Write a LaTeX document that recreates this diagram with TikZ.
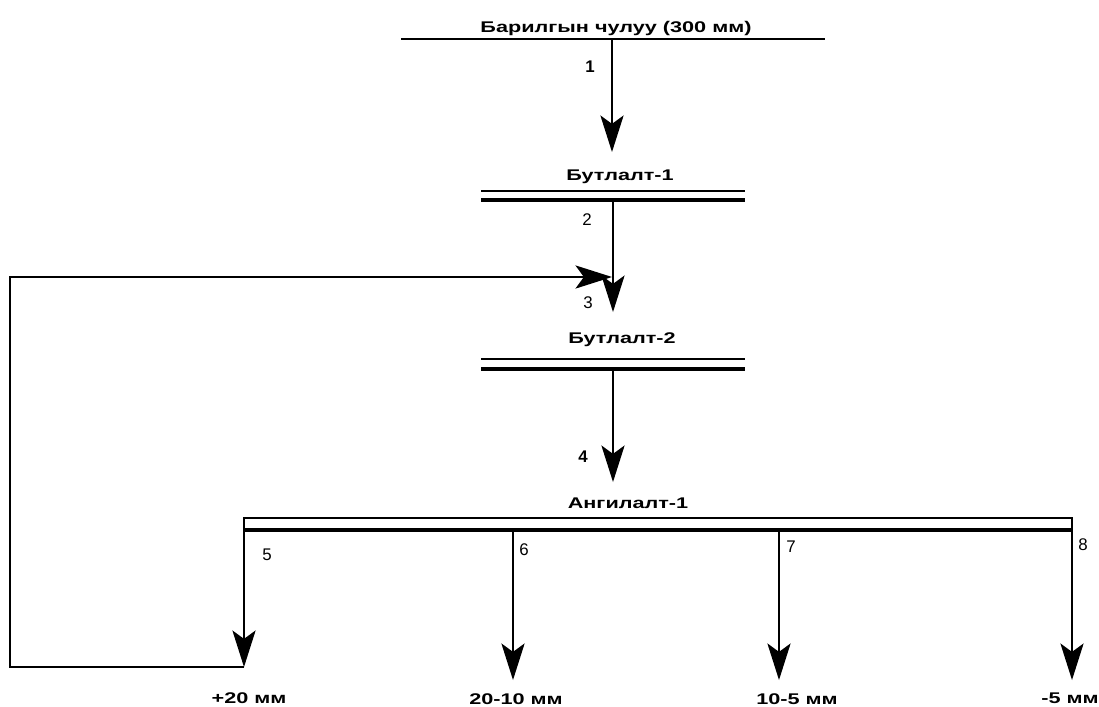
\documentclass[tikz,border=0pt]{standalone}
\usepackage{fontspec}
\setmainfont{Liberation Sans}
\newfontfamily\widesans[FakeStretch=1.4]{Liberation Sans}
\usetikzlibrary{arrows.meta}

\tikzset{
  thinline/.style={line width=0.9pt},
  thickline/.style={line width=2.8pt},
  flow/.style={line width=1pt,-{Stealth[length=26pt,width=16.5pt,inset=6pt]}},
  title/.style={anchor=base,inner sep=0pt,font=\widesans\fontsize{11}{13}\selectfont\bfseries},
  num/.style={anchor=base,inner sep=0pt,font=\fontsize{12}{14}\selectfont},
  numb/.style={num,font=\fontsize{12}{14}\selectfont\bfseries}
}

\begin{document}
\begin{tikzpicture}[x=0.025cm,y=-0.025cm]
  \useasboundingbox (0,0) rectangle (1099,706);

  %%%%% source %%%%%
  \node[title] (src) at (616,32) {Барилгын чулуу (300 мм)};
  \draw[thinline] (401,39) -- (825,39);
  \coordinate (srcout) at (612,39);
  \coordinate (crushAin) at (612,152);
  \draw[flow] (srcout) -- (crushAin);
  \node[numb] (n1) at (590,72) {1};

  %%%%% crusher 1 %%%%%
  \node[title] (crushA) at (620,180) {Бутлалт-1};
  \draw[thinline] (481,191) -- (745,191);
  \draw[thickline] (481,200) -- (745,200);
  \coordinate (crushAout) at (613,200);
  \coordinate (crushBin) at (613,312);
  \draw[flow] (crushAout) -- (crushBin);
  \node[num] (n2) at (587,225) {2};
  \node[num] (n3) at (588,308) {3};

  %%%%% crusher 2 %%%%%
  \node[title] (crushB) at (622,343) {Бутлалт-2};
  \draw[thinline] (481,359) -- (745,359);
  \draw[thickline] (481,369) -- (745,369);
  \coordinate (crushBout) at (613,369);
  \coordinate (screenin) at (613,482);
  \draw[flow] (crushBout) -- (screenin);
  \node[numb] (n4) at (583,462) {4};

  %%%%% screen %%%%%
  \node[title] (screen) at (628,508) {Ангилалт-1};
  \draw[thinline] (244,530) -- (244,518) -- (1072,518) -- (1072,530);
  \draw[thickline] (244,530) -- (1072,530);

  \coordinate (outA) at (244,530);
  \coordinate (outB) at (513,530);
  \coordinate (outC) at (779,530);
  \coordinate (outD) at (1072,530);
  \coordinate (endA) at (244,667);
  \coordinate (endB) at (513,680);
  \coordinate (endC) at (779,680);
  \coordinate (endD) at (1072,680);
  \draw[flow] (outA) -- (endA);
  \draw[flow] (outB) -- (endB);
  \draw[flow] (outC) -- (endC);
  \draw[flow] (outD) -- (endD);
  \node[num] (n5) at (267,560) {5};
  \node[num] (n6) at (524,555) {6};
  \node[num] (n7) at (791,552) {7};
  \node[num] (n8) at (1083,550) {8};

  \node[title] (pA) at (249,703) {+20 мм};
  \node[title] (pB) at (516,704) {20-10 мм};
  \node[title] (pC) at (797,704) {10-5 мм};
  \node[title] (pD) at (1070,703) {-5 мм};

  %%%%% return of +20 %%%%%
  \coordinate (backin) at (612,277);
  \draw[flow] (endA) -- (10,667) -- (10,277) -- (backin);
\end{tikzpicture}
\end{document}
